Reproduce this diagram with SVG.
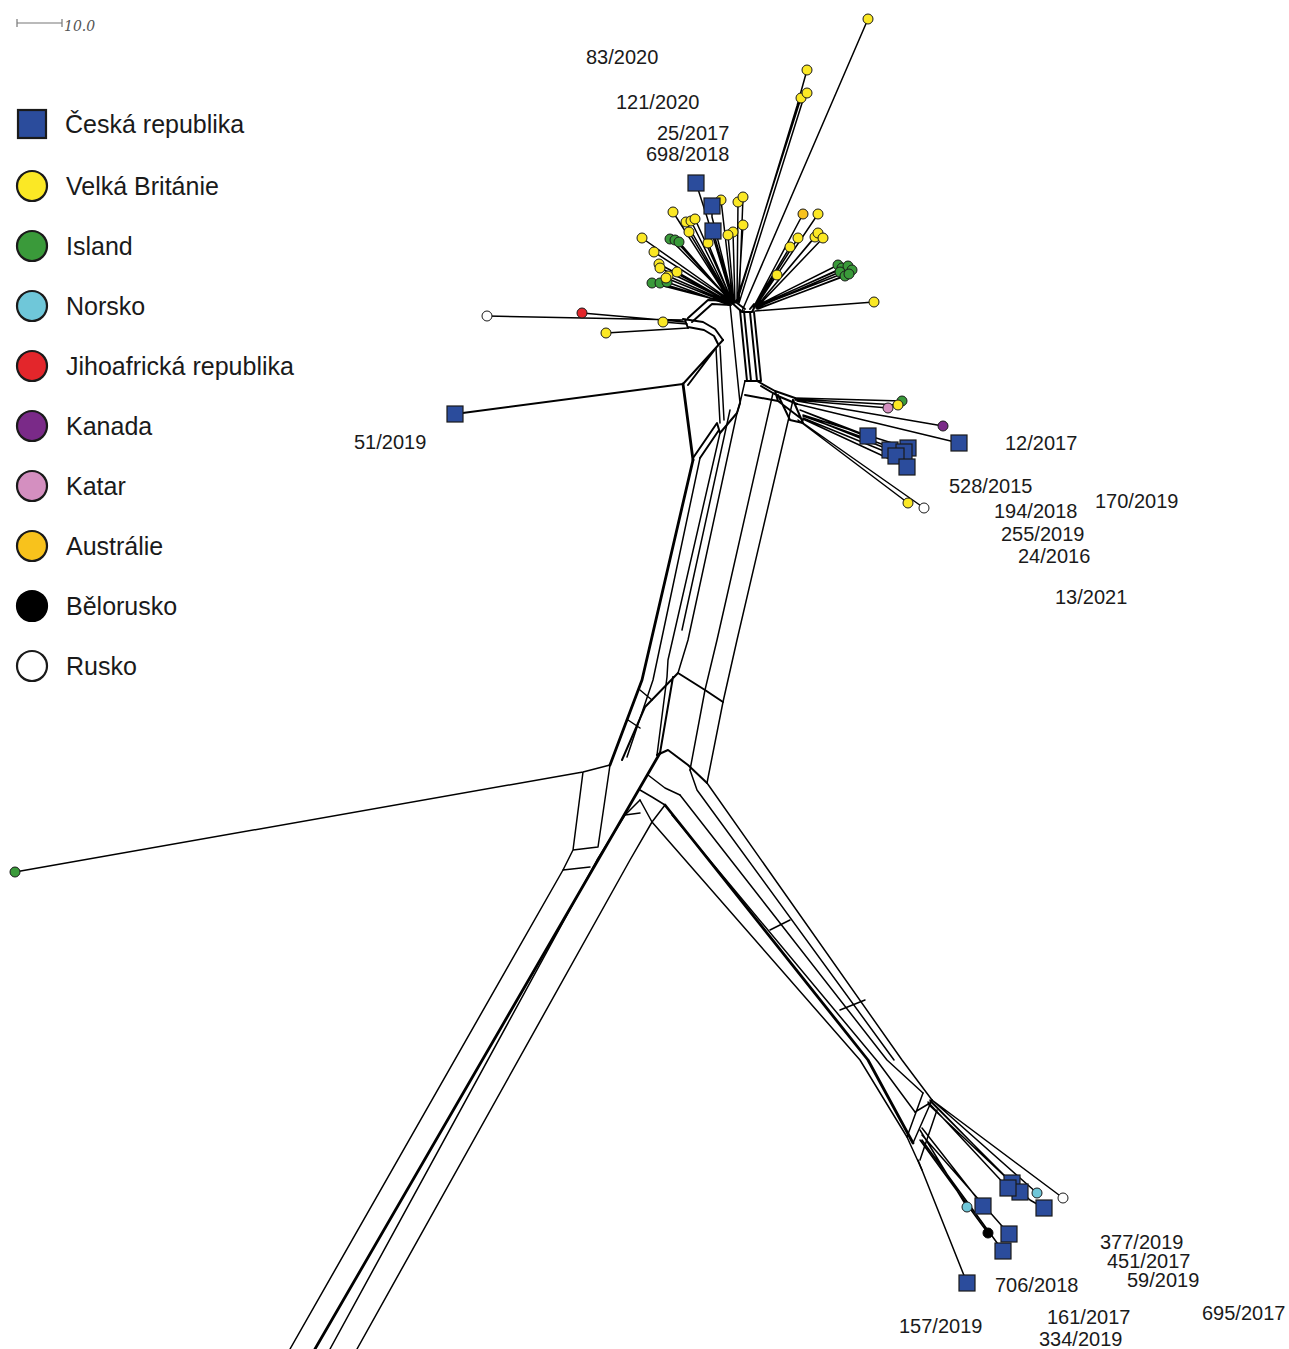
<svg xmlns="http://www.w3.org/2000/svg" width="1289" height="1349" viewBox="0 0 1289 1349">
<style>
.ln{fill:none;stroke:#000;stroke-width:1.5;stroke-linejoin:round;stroke-linecap:round}
.th{stroke-width:2.8}
.md{stroke-width:2}
.cz{fill:#2b4c9c;stroke:#1a1a1a;stroke-width:1.2}
.gb{fill:#fbe825;stroke:#1a1a1a;stroke-width:1}
.is{fill:#3a9a3a;stroke:#1a1a1a;stroke-width:1}
.no{fill:#6fc7d9;stroke:#1a1a1a;stroke-width:1}
.za{fill:#e3262b;stroke:#1a1a1a;stroke-width:1}
.ka{fill:#7a2a88;stroke:#1a1a1a;stroke-width:1}
.qa{fill:#d48fc0;stroke:#1a1a1a;stroke-width:1}
.au{fill:#f8c21c;stroke:#1a1a1a;stroke-width:1}
.by{fill:#000;stroke:#000;stroke-width:1}
.ru{fill:#fff;stroke:#1a1a1a;stroke-width:1}
.lg{stroke-width:2.2}
.lb{font-family:"Liberation Sans",Arial,sans-serif;font-size:20px;fill:#1a1a1a}
.lt{font-family:"Liberation Sans",Arial,sans-serif;font-size:25px;fill:#1a1a1a}
</style>

<g id="scale">
<path d="M17,23 L62,23 M17,19 L17,27 M62,19 L62,27" fill="none" stroke="#777" stroke-width="1.2"/>
<text x="64" y="31" font-family="DejaVu Serif, serif" font-style="italic" font-size="14" fill="#555">10.0</text>
</g>

<g id="legend">
<g id="leg-cz"><rect class="cz lg" x="18" y="110" width="28" height="28"/><text class="lt" x="65" y="133">Česká republika</text></g>
<g id="leg-gb"><circle class="gb lg" cx="32" cy="186" r="15"/><text class="lt" x="66" y="195">Velká Británie</text></g>
<g id="leg-is"><circle class="is lg" cx="32" cy="246" r="15"/><text class="lt" x="66" y="255">Island</text></g>
<g id="leg-no"><circle class="no lg" cx="32" cy="306" r="15"/><text class="lt" x="66" y="315">Norsko</text></g>
<g id="leg-za"><circle class="za lg" cx="32" cy="366" r="15"/><text class="lt" x="66" y="375">Jihoafrická republika</text></g>
<g id="leg-ka"><circle class="ka lg" cx="32" cy="426" r="15"/><text class="lt" x="66" y="435">Kanada</text></g>
<g id="leg-qa"><circle class="qa lg" cx="32" cy="486" r="15"/><text class="lt" x="66" y="495">Katar</text></g>
<g id="leg-au"><circle class="au lg" cx="32" cy="546" r="15"/><text class="lt" x="66" y="555">Austrálie</text></g>
<g id="leg-by"><circle class="by lg" cx="32" cy="606" r="15"/><text class="lt" x="66" y="615">Bělorusko</text></g>
<g id="leg-ru"><circle class="ru lg" cx="32" cy="666" r="15"/><text class="lt" x="66" y="675">Rusko</text></g>
</g>

<g id="connectors">
<!-- top left fan -->
<path class="ln" d="M721,200 L733,303 M738,202 L737,302 M743,197 L739,302 M673,212 L731,303 M686,222 L732,303 M691,221 L732,303 M695,219 L733,303 M689,232 L732,304 M708,243 L733,304 M733,232 L735,303 M728,235 L734,303 M743,225 L738,302 M642,238 L730,300 M654,252 L730,301 M659,264 L730,302 M660,268 L730,302 M677,272 L731,303 M668,276 L730,303 M666,278 L730,304 M670,239 L731,301 M675,240 L731,301 M679,242 L731,302 M652,283 L729,303 M660,283 L729,304 M667,282 L729,305 M696,183 L707,217 L733,303 M712,206 L712,217 L734,303 M713,231 L734,303 M868,19 L742,311 M807,70 L797,106 L737,302 M807,93 L799,104 M801,98 L736,302 M803,100 L739,303"/>
<!-- top right fan -->
<path class="ln" d="M803,214 L754,306 M818,214 L756,306 M798,238 L755,306 M790,247 L754,306 M815,237 L757,306 M818,233 L757,306 M823,238 L758,306 M777,275 L753,307 M838,265 L756,306 M842,268 L756,307 M848,266 L757,306 M852,270 L757,307 M840,272 L756,308 M845,276 L757,309 M849,274 L758,309 M874,302 L755,311"/>
<!-- hub -->
<path class="ln md" d="M731,302 L742,312 L752,312 L755,306 M733,300 L745,309 M750,309 L754,304"/>
<!-- left arm -->
<path class="ln" d="M487,316 L683,320 M582,313 L685,322 M663,322 L687,324 M606,333 L688,328"/>
<path class="ln md" d="M683,319 L703,322 L715,329 L723,340 M688,327 L704,330 L714,336 L718,344 M685,320 L688,328 M688,318 L708,300 L729,301 M692,322 L712,304 L731,305"/>
<!-- upper verticals -->
<path class="ln md" d="M740,310 L747,381 M744,311 L751,381 M750,312 L757,381 M754,312 L761,381 M745,381 L761,381"/>
<!-- left box -->
<path class="ln md" d="M723,340 L683,384 M719,344 L688,385 M455,414 L683,384"/>
<path class="ln" d="M716,348 L720,423 M720,346 L724,420 M730,304 L740,403 M745,381 L740,403 L737,413"/>
<path class="ln th" d="M683,384 L693,460"/>
<!-- zigzag notch -->
<path class="ln md" d="M693,458 L717,423 L720,433 L737,413 L740,403 M700,458 L719,430"/>
<!-- right mid junction band -->
<path class="ln md" d="M757,381 L775,391 L795,398 M761,386 L778,396 L797,404 M745,395 L778,401 L803,420 M778,395 L790,420 L803,423 L793,400 M775,391 L778,401"/>
<!-- right mid leaves -->
<path class="ln" d="M795,398 L902,401 M795,399 L898,405 M795,400 L888,408 M797,401 L943,426 M797,404 L959,443 M800,410 L868,436 M803,415 L890,450 M803,415 L908,448 M803,416 L904,452 M803,418 L896,456 M803,419 L907,467 M798,420 L908,503 M803,423 L924,508 M805,412 L868,437"/>
<!-- trunk -->
<path class="ln th" d="M693,460 L642,680 L610,765"/>
<path class="ln" d="M700,458 L653,680 L627,757 M720,433 L668,660 L667,677 L657,755 M737,413 L688,640 L678,673 M773,393 L717,640 L705,690 L690,770 M793,400 L737,640 L723,702 L707,783 M730,410 L682,630 M640,690 L652,700 M628,720 L640,728"/>
<path class="ln md" d="M678,673 L705,690 L723,702 M678,673 L645,707 M673,677 L660,753 M657,755 L668,750 L688,765 L707,783 M645,707 L622,760"/>
<!-- green outlier and box -->
<path class="ln" d="M15,872 L583,772 L610,765 M583,772 L573,850 L563,870 M610,765 L598,847 M573,850 L598,847 M563,870 L590,867"/>
<!-- bottom left -->
<path class="ln" d="M563,870 L290,1349 M330,1349 L597,860 L625,815 L640,800 M357,1349 L630,860 L652,822"/>
<path class="ln th" d="M315,1349 L660,753"/>
<path class="ln" d="M640,790 L652,797 L665,805 M648,775 L665,788 L680,795 M640,800 L652,822 L665,805 M625,815 L640,813"/>
<!-- bottom right bundle -->
<path class="ln" d="M652,822 L860,1060 L907,1137 L922,1170 M680,795 L887,1060 L923,1093 M707,783 L902,1060 L932,1100 M690,770 L697,790 L894,1060 M672,815 L878,1062 L915,1112"/>
<path class="ln th" d="M665,805 L868,1060 L913,1143"/>
<path class="ln" d="M923,1093 L907,1137 M932,1100 L913,1143 M937,1110 L920,1160 M915,1112 L930,1103 M770,930 L790,920 M840,1010 L865,1000"/>
<!-- bottom right leaves -->
<path class="ln" d="M932,1100 L1063,1198 M932,1100 L1037,1193 M930,1100 L1020,1192 M930,1101 L1012,1183 M928,1102 L1008,1188 M928,1104 L1030,1200 L1044,1208 M920,1130 L967,1207 M922,1128 L983,1206 M920,1140 L982,1225 L988,1233 M922,1135 L1009,1234 M922,1140 L1003,1251 M918,1160 L967,1283"/>
</g>

<g id="nodes">
<g id="n-t1"><circle class="gb" cx="868" cy="19" r="5"/></g>
<g id="n-t2"><circle class="gb" cx="807" cy="70" r="5"/></g>
<g id="n-t3"><circle class="gb" cx="801" cy="98" r="5"/></g>
<g id="n-t4"><circle class="gb" cx="807" cy="93" r="5"/></g>
<g id="n-t5"><circle class="gb" cx="721" cy="200" r="5"/></g>
<g id="n-t6"><circle class="gb" cx="738" cy="202" r="5"/></g>
<g id="n-t7"><circle class="gb" cx="743" cy="197" r="5"/></g>
<g id="n-t8"><circle class="gb" cx="673" cy="212" r="5"/></g>
<g id="n-t9"><circle class="gb" cx="686" cy="222" r="5"/></g>
<g id="n-t10"><circle class="gb" cx="691" cy="221" r="5"/></g>
<g id="n-t11"><circle class="gb" cx="695" cy="219" r="5"/></g>
<g id="n-t12"><circle class="gb" cx="689" cy="232" r="5"/></g>
<g id="n-t13"><circle class="gb" cx="708" cy="243" r="5"/></g>
<g id="n-t14"><circle class="gb" cx="733" cy="232" r="5"/></g>
<g id="n-t15"><circle class="gb" cx="728" cy="235" r="5"/></g>
<g id="n-t16"><circle class="gb" cx="743" cy="225" r="5"/></g>
<g id="n-t17"><circle class="gb" cx="642" cy="238" r="5"/></g>
<g id="n-t18"><circle class="gb" cx="654" cy="252" r="5"/></g>
<g id="n-t19"><circle class="is" cx="670" cy="239" r="5"/></g>
<g id="n-t20"><circle class="is" cx="675" cy="240" r="5"/></g>
<g id="n-t21"><circle class="is" cx="679" cy="242" r="5"/></g>
<g id="n-t22"><circle class="gb" cx="659" cy="264" r="5"/></g>
<g id="n-t23"><circle class="gb" cx="660" cy="268" r="5"/></g>
<g id="n-t24"><circle class="is" cx="652" cy="283" r="5"/></g>
<g id="n-t25"><circle class="is" cx="660" cy="283" r="5"/></g>
<g id="n-t26"><circle class="is" cx="667" cy="282" r="5"/></g>
<g id="n-t27"><circle class="gb" cx="677" cy="272" r="5"/></g>
<g id="n-t28"><circle class="gb" cx="668" cy="276" r="5"/></g>
<g id="n-t29"><circle class="gb" cx="666" cy="278" r="5"/></g>
<g id="n-s1"><rect class="cz" x="688" y="175" width="16" height="16"/></g>
<g id="n-s2"><rect class="cz" x="704" y="198" width="16" height="16"/></g>
<g id="n-s3"><rect class="cz" x="705" y="223" width="16" height="16"/></g>
<g id="n-r1"><circle class="au" cx="803" cy="214" r="5"/></g>
<g id="n-r2"><circle class="gb" cx="818" cy="214" r="5"/></g>
<g id="n-r3"><circle class="gb" cx="798" cy="238" r="5"/></g>
<g id="n-r4"><circle class="gb" cx="790" cy="247" r="5"/></g>
<g id="n-r5"><circle class="gb" cx="815" cy="237" r="5"/></g>
<g id="n-r6"><circle class="gb" cx="818" cy="233" r="5"/></g>
<g id="n-r7"><circle class="gb" cx="823" cy="238" r="5"/></g>
<g id="n-r8"><circle class="gb" cx="777" cy="275" r="5"/></g>
<g id="n-r9"><circle class="is" cx="838" cy="265" r="5"/></g>
<g id="n-r10"><circle class="is" cx="842" cy="268" r="5"/></g>
<g id="n-r11"><circle class="is" cx="848" cy="266" r="5"/></g>
<g id="n-r12"><circle class="is" cx="852" cy="270" r="5"/></g>
<g id="n-r13"><circle class="is" cx="840" cy="272" r="5"/></g>
<g id="n-r14"><circle class="is" cx="845" cy="276" r="5"/></g>
<g id="n-r15"><circle class="is" cx="849" cy="274" r="5"/></g>
<g id="n-r16"><circle class="gb" cx="874" cy="302" r="5"/></g>
<g id="n-l1"><circle class="ru" cx="487" cy="316" r="5"/></g>
<g id="n-l2"><circle class="za" cx="582" cy="313" r="5"/></g>
<g id="n-l3"><circle class="gb" cx="663" cy="322" r="5"/></g>
<g id="n-l4"><circle class="gb" cx="606" cy="333" r="5"/></g>
<g id="n-l5"><rect class="cz" x="447" y="406" width="16" height="16"/></g>
<g id="n-m1"><circle class="is" cx="902" cy="401" r="5"/></g>
<g id="n-m2"><circle class="gb" cx="898" cy="405" r="5"/></g>
<g id="n-m3"><circle class="qa" cx="888" cy="408" r="5"/></g>
<g id="n-m4"><circle class="ka" cx="943" cy="426" r="5"/></g>
<g id="n-m5"><rect class="cz" x="951" y="435" width="16" height="16"/></g>
<g id="n-m6"><rect class="cz" x="860" y="428" width="16" height="16"/></g>
<g id="n-m7"><rect class="cz" x="900" y="440" width="16" height="16"/></g>
<g id="n-m8"><rect class="cz" x="882" y="442" width="16" height="16"/></g>
<g id="n-m9"><rect class="cz" x="896" y="444" width="16" height="16"/></g>
<g id="n-m10"><rect class="cz" x="888" y="448" width="16" height="16"/></g>
<g id="n-m11"><rect class="cz" x="899" y="459" width="16" height="16"/></g>
<g id="n-m12"><circle class="gb" cx="908" cy="503" r="5"/></g>
<g id="n-m13"><circle class="ru" cx="924" cy="508" r="5"/></g>
<g id="n-o1"><circle class="is" cx="15" cy="872" r="5"/></g>
<g id="n-b1"><circle class="ru" cx="1063" cy="1198" r="5"/></g>
<g id="n-b2"><circle class="no" cx="1037" cy="1193" r="5"/></g>
<g id="n-b3"><rect class="cz" x="1004" y="1175" width="16" height="16"/></g>
<g id="n-b4"><rect class="cz" x="1012" y="1184" width="16" height="16"/></g>
<g id="n-b5"><rect class="cz" x="1000" y="1180" width="16" height="16"/></g>
<g id="n-b6"><rect class="cz" x="1036" y="1200" width="16" height="16"/></g>
<g id="n-b7"><circle class="no" cx="967" cy="1207" r="5"/></g>
<g id="n-b8"><rect class="cz" x="975" y="1198" width="16" height="16"/></g>
<g id="n-b9"><circle class="by" cx="988" cy="1233" r="5"/></g>
<g id="n-b10"><rect class="cz" x="1001" y="1226" width="16" height="16"/></g>
<g id="n-b11"><rect class="cz" x="995" y="1243" width="16" height="16"/></g>
<g id="n-b12"><rect class="cz" x="959" y="1275" width="16" height="16"/></g>
</g>

<g id="labels">
<text class="lb" x="586" y="64">83/2020</text>
<text class="lb" x="616" y="109">121/2020</text>
<text class="lb" x="657" y="140">25/2017</text>
<text class="lb" x="646" y="161">698/2018</text>
<text class="lb" x="354" y="449">51/2019</text>
<text class="lb" x="1005" y="450">12/2017</text>
<text class="lb" x="949" y="493">528/2015</text>
<text class="lb" x="1095" y="508">170/2019</text>
<text class="lb" x="994" y="518">194/2018</text>
<text class="lb" x="1001" y="541">255/2019</text>
<text class="lb" x="1018" y="563">24/2016</text>
<text class="lb" x="1055" y="604">13/2021</text>
<text class="lb" x="1100" y="1249">377/2019</text>
<text class="lb" x="1107" y="1268">451/2017</text>
<text class="lb" x="1127" y="1287">59/2019</text>
<text class="lb" x="995" y="1292">706/2018</text>
<text class="lb" x="1202" y="1320">695/2017</text>
<text class="lb" x="1047" y="1324">161/2017</text>
<text class="lb" x="899" y="1333">157/2019</text>
<text class="lb" x="1039" y="1346">334/2019</text>
</g>
</svg>
